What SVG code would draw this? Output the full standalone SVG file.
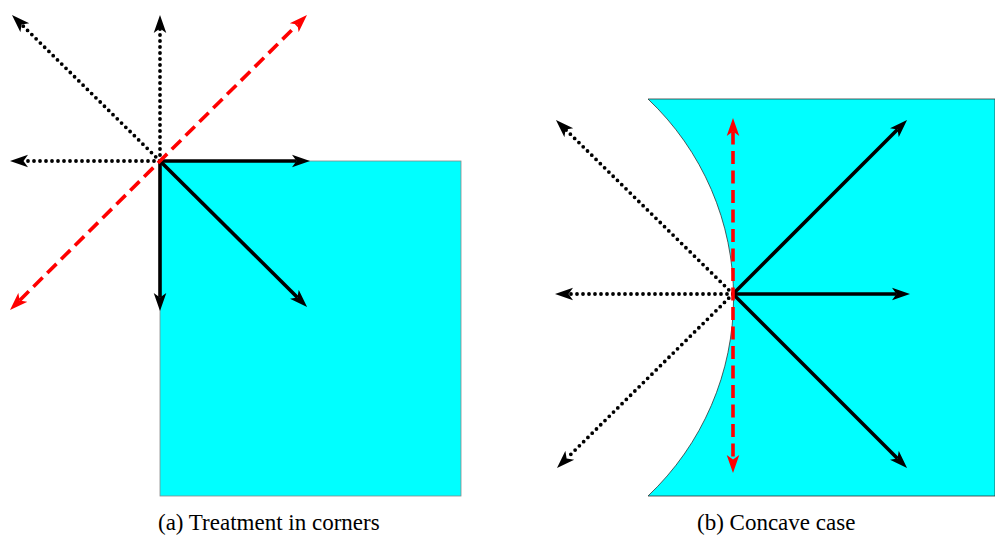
<svg xmlns="http://www.w3.org/2000/svg" width="995" height="535" viewBox="0 0 995 535">
  <style>
    .solid { stroke: #000; stroke-width: 3.6; fill: none; marker-end: url(#ah); }
    .dot { stroke: #000; stroke-width: 3.8; fill: none; stroke-dasharray: 0 6; stroke-linecap: round; marker-end: url(#ah); }
    .red { stroke: #ff0000; stroke-width: 3.6; fill: none; stroke-dasharray: 13 6.5; marker-start: url(#ahr); marker-end: url(#ahr); }
    .cap { font-family: "Liberation Serif", "Times New Roman", serif; font-size: 23px; fill: #000; }
  </style>
  <defs>
    <marker id="ah" viewBox="0 -7 19 14" refX="4.5" refY="0" markerWidth="19" markerHeight="14" markerUnits="userSpaceOnUse" orient="auto">
      <path d="M0,-6.3 L18,0 L0,6.3 L4.5,0 z" fill="#000"/>
    </marker>
    <marker id="ahr" viewBox="0 -7 19 14" refX="4.5" refY="0" markerWidth="19" markerHeight="14" markerUnits="userSpaceOnUse" orient="auto-start-reverse">
      <path d="M0,-6.3 L18,0 L0,6.3 L4.5,0 z" fill="#ff0000"/>
    </marker>
  </defs>
  <rect width="995" height="535" fill="#fff"/>

  <g id="panel-a">
    <g id="region-a">
      <rect x="160" y="161" width="301" height="335" fill="#00ffff" stroke="#888" stroke-width="0.8"/>
    </g>
    <g id="connectors-a">
      <line class="dot" x1="160" y1="161" x2="23.5" y2="161"/>
      <line class="dot" x1="160" y1="161" x2="160" y2="28.5"/>
      <line class="dot" x1="160" y1="161" x2="21.6" y2="24.5"/>
      <line class="solid" x1="160" y1="161" x2="296.5" y2="161"/>
      <line class="solid" x1="160" y1="161" x2="160" y2="297.5"/>
      <line class="solid" x1="160" y1="161" x2="297.5" y2="297.5"/>
      <line class="red" x1="19.6" y1="300.5" x2="297.4" y2="24.5"/>
    </g>
    <g id="caption-a">
      <text class="cap" x="158" y="530">(a) Treatment in corners</text>
    </g>
  </g>

  <g id="panel-b">
    <g id="region-b">
      <path d="M648,99 L995,99 L995,496 L648,496 A273,273 0 0 0 648,99 Z" fill="#00ffff" stroke="#333" stroke-width="0.8"/>
    </g>
    <g id="connectors-b">
      <line class="dot" x1="733" y1="294" x2="568.5" y2="294"/>
      <line class="dot" x1="733" y1="294" x2="565.6" y2="129.5"/>
      <line class="dot" x1="733" y1="294" x2="566.6" y2="458.5"/>
      <line class="solid" x1="733" y1="294" x2="896.5" y2="294"/>
      <line class="solid" x1="733" y1="294" x2="897.5" y2="129.5"/>
      <line class="solid" x1="733" y1="294" x2="897.5" y2="458.5"/>
      <line class="red" x1="733" y1="131.5" x2="733" y2="459.5"/>
    </g>
    <g id="caption-b">
      <text class="cap" x="697" y="530">(b) Concave case</text>
    </g>
  </g>
</svg>
